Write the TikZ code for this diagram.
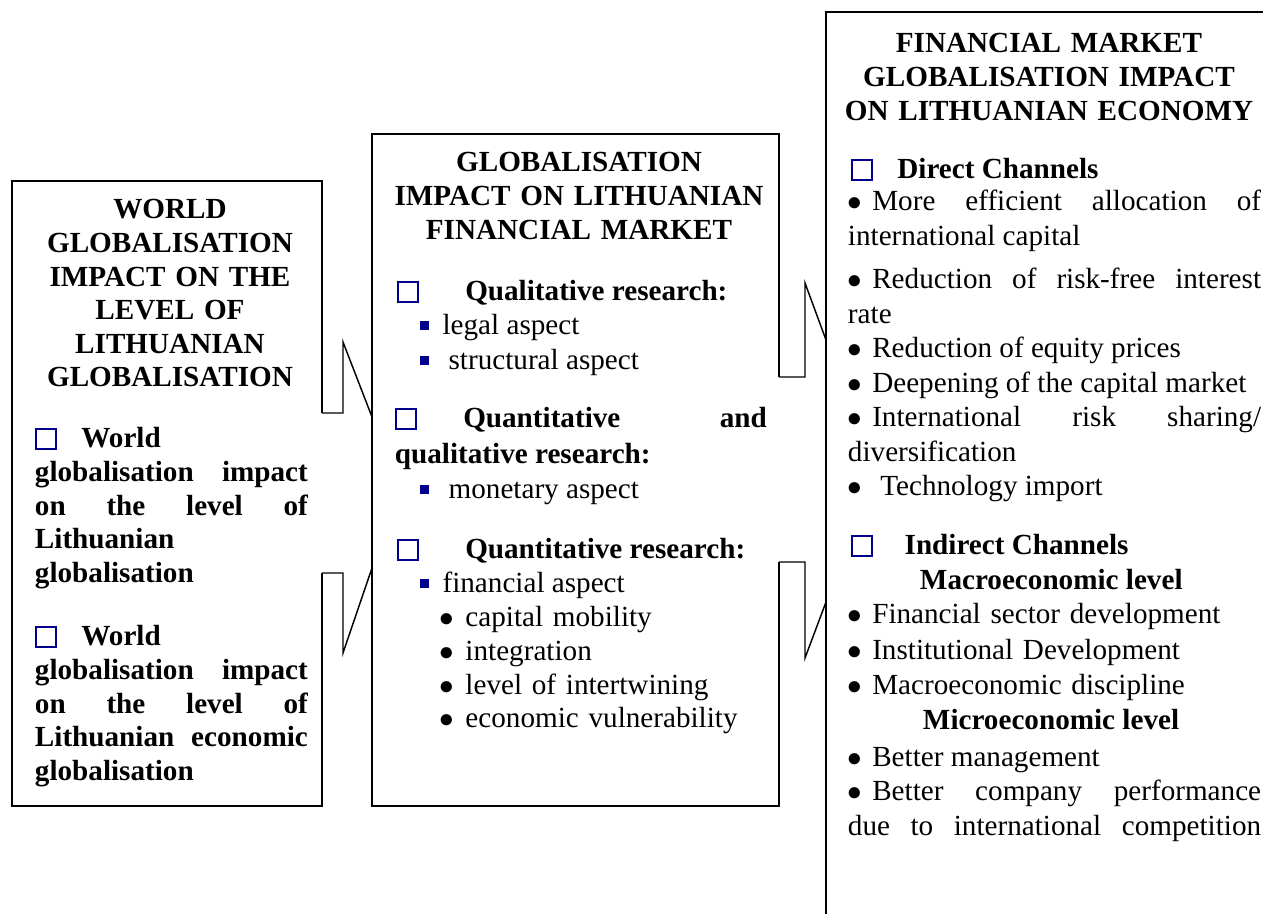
\documentclass[tikz,border=0pt]{standalone}
\usepackage{fontspec}
\setmainfont{Liberation Serif}
\definecolor{chkblue}{RGB}{0,0,140}
\newcommand{\chkbox}{\textcolor{chkblue}{\setlength{\fboxsep}{0pt}\setlength{\fboxrule}{0.75pt}\fbox{\phantom{\rule{7.6pt}{7.6pt}}}}}
\newcommand{\sqbul}{\textcolor{chkblue}{\rule[2pt]{3.8pt}{3.8pt}}}
\newcommand{\rbul}{\ensuremath{\bullet}}
\hyphenpenalty=10000
\exhyphenpenalty=10000
\tolerance=10000
\hbadness=10000

\begin{document}
\begin{tikzpicture}[x=0.4115pt,y=-0.4115pt,line width=0.8pt,
  txt/.style={anchor=base west,inner sep=0pt,font=\fontsize{12}{13.8}\selectfont},
  btxt/.style={txt,font=\fontsize{12}{13.8}\selectfont\bfseries},
  just/.style={txt,align=justify},
  bjust/.style={btxt,align=justify},
  head/.style={anchor=base,inner sep=0pt,align=center,font=\fontsize{12}{13.8}\selectfont\bfseries},
  notch/.style={line width=0.6pt}]
\useasboundingbox (0,0) rectangle (1263,914);

\coordinate (lb-nw) at (12,181);
\coordinate (lb-ne) at (322,181);
\coordinate (lb-se) at (322,806);
\coordinate (lb-sw) at (12,806);
\coordinate (lu1) at (322,413);
\coordinate (lu2) at (343,413);
\coordinate (lu3) at (343,342);
\coordinate (lu4) at (372,417);
\coordinate (ld1) at (322,573);
\coordinate (ld2) at (343,573);
\coordinate (ld3) at (343,653);
\coordinate (ld4) at (372,568);

\coordinate (mb-nw) at (372,134);
\coordinate (mb-ne) at (779,134);
\coordinate (mb-se) at (779,806);
\coordinate (mb-sw) at (372,806);
\coordinate (mu1) at (779,377);
\coordinate (mu2) at (805,377);
\coordinate (mu3) at (805,283);
\coordinate (mu4) at (826,340);
\coordinate (md1) at (779,562);
\coordinate (md2) at (805,562);
\coordinate (md3) at (805,658);
\coordinate (md4) at (826,602);

\coordinate (rb-ne) at (1263,12);
\coordinate (rb-nw) at (826,12);
\coordinate (rb-sw) at (826,914);

\draw (lu1) -- (lb-ne) -- (lb-nw) -- (lb-sw) -- (lb-se) -- (ld1);
\draw[notch] (lu1) -- (lu2) -- (lu3) -- (lu4);
\draw[notch] (ld1) -- (ld2) -- (ld3) -- (ld4);

\draw (mu1) -- (mb-ne) -- (mb-nw) -- (mb-sw) -- (mb-se) -- (md1);
\draw[notch] (mu1) -- (mu2) -- (mu3) -- (mu4);
\draw[notch] (md1) -- (md2) -- (md3) -- (md4);

\draw (rb-ne) -- (rb-nw) -- (rb-sw);

\node[head,text width=125pt] (lhead) at (170,219) {WORLD\\GLOBALISATION\\IMPACT ON THE\\LEVEL OF\\LITHUANIAN\\GLOBALISATION};
\node[bjust,text width=112.3pt] (lone) at (34,448) {\chkbox\hspace{10pt}World\\globalisation~impact\linebreak on~the~level~of\linebreak Lithuanian\\globalisation};
\node[bjust,text width=112.3pt] (ltwo) at (34,646) {\chkbox\hspace{10pt}World\\globalisation~impact\linebreak on~the~level~of\linebreak Lithuanian~economic\linebreak globalisation};

\node[head,text width=165pt] (mhead) at (579,172) {GLOBALISATION\\IMPACT ON LITHUANIAN\\FINANCIAL MARKET};
\node[btxt] (mqual) at (396,301) {\chkbox\hspace{19pt}Qualitative research:};
\node[txt] (mlegal) at (419,335) {\sqbul\hspace{5.5pt}legal aspect};
\node[txt] (mstruct) at (419,370) {\sqbul\hspace{8pt}structural aspect};
\node[bjust,text width=153pt,font=\fontsize{12}{14.8}\selectfont\bfseries] (mmixed) at (394,428) {\chkbox\hspace{19pt}Quantitative\hfill and\\qualitative research:};
\node[txt] (mmon) at (419,499) {\sqbul\hspace{8pt}monetary aspect};
\node[btxt] (mquant) at (396,559) {\chkbox\hspace{19pt}Quantitative research:};
\node[txt] (mfin) at (419,593) {\sqbul\hspace{5.5pt}financial aspect};
\node[txt,text width=140pt,align=left] (mlist) at (439,627) {\rbul\hspace{4.5pt}capital mobility\\\rbul\hspace{4.5pt}integration\\\rbul\hspace{4.5pt}level of intertwining\\\rbul\hspace{4.5pt}economic vulnerability};

\node[head,text width=180pt] (rhead) at (1049,53) {FINANCIAL MARKET\\GLOBALISATION IMPACT\\ON LITHUANIAN ECONOMY};
\node[btxt] (rdirect) at (850,179) {\chkbox\hspace{10pt}Direct Channels};
\node[just,text width=170pt,font=\fontsize{12}{14.2}\selectfont] (rdlist) at (847,211) {\rbul\hspace{4pt}More~efficient~allocation~of\linebreak international capital\\[3.5pt]\rbul\hspace{4pt}Reduction~of~risk-free~interest\linebreak rate\\\rbul\hspace{4pt}Reduction of equity prices\\\rbul\hspace{4pt}Deepening of the capital market\\\rbul\hspace{4pt}International~risk~sharing/\linebreak diversification\\\rbul\hspace{7.3pt}Technology import};
\node[btxt] (rindirect) at (850,555) {\chkbox\hspace{13pt}Indirect Channels};
\node[btxt] (rmacro) at (919,590) {Macroeconomic level};
\node[txt,text width=170pt,align=left,font=\fontsize{12}{14.6}\selectfont] (rmlist) at (847,624) {\rbul\hspace{4pt}Financial sector development\\\rbul\hspace{4pt}Institutional Development\\\rbul\hspace{4pt}Macroeconomic discipline};
\node[btxt] (rmicro) at (922,730) {Microeconomic level};
\node[just,text width=170pt,font=\fontsize{12}{14.2}\selectfont] (rilist) at (847,766) {\rbul\hspace{4pt}Better management\\\rbul\hspace{4pt}Better~company~performance\linebreak\makebox[\linewidth][s]{due to international competition}};
\end{tikzpicture}
\end{document}
